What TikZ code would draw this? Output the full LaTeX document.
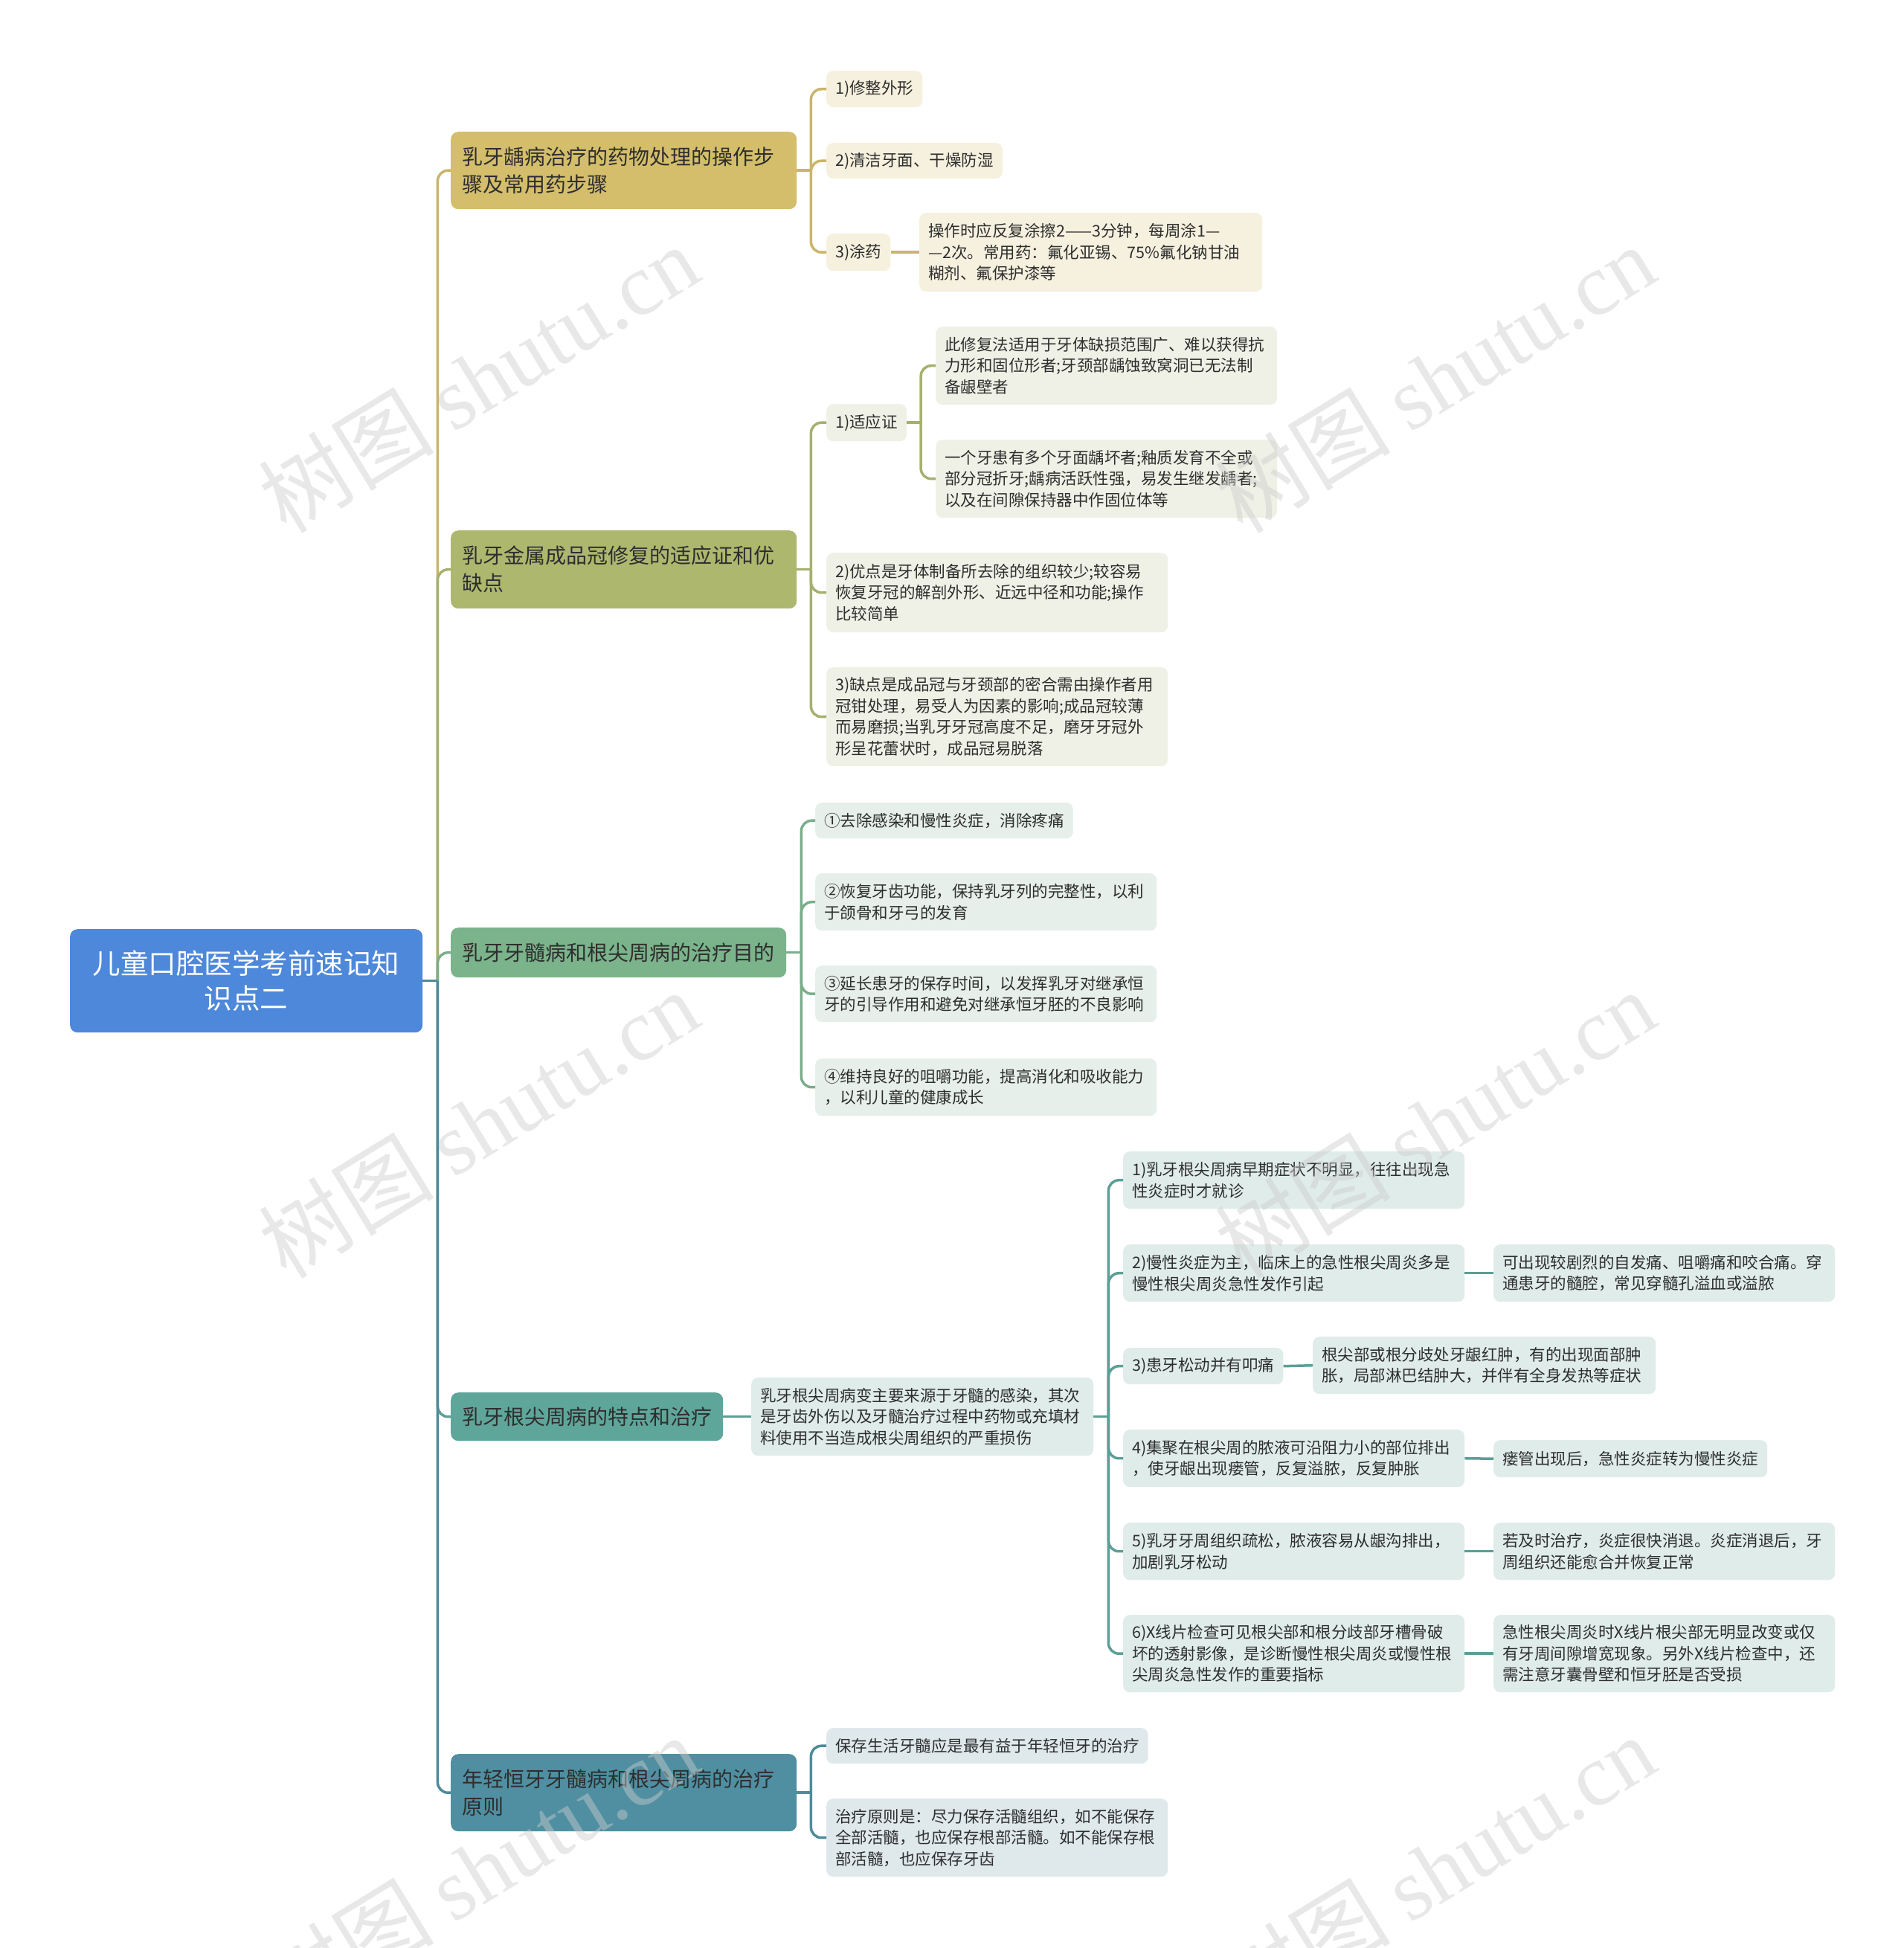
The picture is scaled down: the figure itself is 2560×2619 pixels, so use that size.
\documentclass[tikz,border=0pt]{standalone}
\usepackage{fontspec}
\setmainfont{Noto Sans CJK SC}
\newfontfamily\wmserif{Liberation Serif}
\definecolor{rootfill}{HTML}{4E88DA}
\definecolor{Afill}{HTML}{D4BE6C}
\definecolor{Aline}{HTML}{C9B56B}
\definecolor{Aleaf}{HTML}{F6F1DF}
\definecolor{Atext}{HTML}{5A4A14}
\definecolor{Bfill}{HTML}{ADB86E}
\definecolor{Bline}{HTML}{A5B06F}
\definecolor{Bleaf}{HTML}{F0F1E6}
\definecolor{Cfill}{HTML}{7BB38B}
\definecolor{Cline}{HTML}{7AAE8A}
\definecolor{Cleaf}{HTML}{E6EFE9}
\definecolor{Dfill}{HTML}{5FA69A}
\definecolor{Dline}{HTML}{5C9F96}
\definecolor{Dleaf}{HTML}{DFECEA}
\definecolor{Efill}{HTML}{4F8FA1}
\definecolor{Eline}{HTML}{4E8B9B}
\definecolor{Eleaf}{HTML}{DFE9EC}
\definecolor{ink}{HTML}{2E2E2E}
\tikzset{
  conn/.style={line width=3.5pt, rounded corners=14pt},
  leaf/.style={anchor=north west, rounded corners=9pt, align=left, inner xsep=12pt, inner ysep=0pt,
    font=\fontsize{21.5}{28.5}\selectfont, text=ink},
  lone/.style={anchor=north west, rounded corners=10pt, align=left, inner xsep=15pt, inner ysep=0pt,
    font=\fontsize{28}{37}\selectfont, text=ink},
  wm/.style={rotate=31.5, text=gray!40, text opacity=0.45, inner sep=0pt},
}
\begin{document}
\begin{tikzpicture}[x=1pt,y=-1pt]
\useasboundingbox[fill=white] (0,0) rectangle (2560,2619);

% root
\node[anchor=north west, rounded corners=10pt, fill=rootfill, text=white, align=center,
  text width=444pt, minimum height=139pt, inner xsep=15pt, inner ysep=0pt,
  font=\fontsize{37.5}{47}\selectfont] (R) at (94,1249) {儿童口腔医学考前速记知\\识点二};

% level 1
\node[lone, fill=Afill, text width=435pt, minimum height=104pt] (A) at (606,177) {乳牙龋病治疗的药物处理的操作步\\骤及常用药步骤};
\node[lone, fill=Bfill, text width=435pt, minimum height=105pt] (B) at (606,713) {乳牙金属成品冠修复的适应证和优\\缺点};
\node[lone, fill=Cfill, text width=421pt, minimum height=67pt] (C) at (606,1247) {乳牙牙髓病和根尖周病的治疗目的};
\node[lone, fill=Dfill, text width=336pt, minimum height=65pt] (D) at (606,1872) {乳牙根尖周病的特点和治疗};
\node[lone, fill=Efill, text width=435pt, minimum height=104pt] (E) at (606,2358) {年轻恒牙牙髓病和根尖周病的治疗\\原则};

% branch A
\begin{scope}[every node/.append style={fill=Aleaf, text=Atext}]
\node[leaf, minimum height=49pt] (a1) at (1111,95) {1)修整外形};
\node[leaf, minimum height=48pt] (a2) at (1111,192) {2)清洁牙面、干燥防湿};
\node[leaf, minimum height=50pt] (a3) at (1111,314) {3)涂药};
\node[leaf, text width=437pt, minimum height=106pt] (a3x) at (1236,286) {操作时应反复涂擦2——3分钟，每周涂1—\\—2次。常用药：氟化亚锡、75\%氟化钠甘油\\糊剂、氟保护漆等};
\end{scope}

% branch B
\begin{scope}[every node/.append style={fill=Bleaf}]
\node[leaf, minimum height=50pt] (b1) at (1111,543) {1)适应证};
\node[leaf, text width=435pt, minimum height=105pt] (b1a) at (1258,439) {此修复法适用于牙体缺损范围广、难以获得抗\\力形和固位形者;牙颈部龋蚀致窝洞已无法制\\备龈壁者};
\node[leaf, text width=435pt, minimum height=105pt] (b1b) at (1258,591) {一个牙患有多个牙面龋坏者;釉质发育不全或\\部分冠折牙;龋病活跃性强，易发生继发龋者;\\以及在间隙保持器中作固位体等};
\node[leaf, text width=435pt, minimum height=107pt] (b2) at (1111,743) {2)优点是牙体制备所去除的组织较少;较容易\\恢复牙冠的解剖外形、近远中径和功能;操作\\比较简单};
\node[leaf, text width=435pt, minimum height=133pt] (b3) at (1111,897) {3)缺点是成品冠与牙颈部的密合需由操作者用\\冠钳处理，易受人为因素的影响;成品冠较薄\\而易磨损;当乳牙牙冠高度不足，磨牙牙冠外\\形呈花蕾状时，成品冠易脱落};
\end{scope}

% branch C
\begin{scope}[every node/.append style={fill=Cleaf}]
\node[leaf, minimum height=48pt] (c1) at (1096,1079) {①去除感染和慢性炎症，消除疼痛};
\node[leaf, text width=435pt, minimum height=77pt] (c2) at (1096,1174) {②恢复牙齿功能，保持乳牙列的完整性，以利\\于颌骨和牙弓的发育};
\node[leaf, text width=435pt, minimum height=76pt] (c3) at (1096,1298) {③延长患牙的保存时间，以发挥乳牙对继承恒\\牙的引导作用和避免对继承恒牙胚的不良影响};
\node[leaf, text width=435pt, minimum height=77pt] (c4) at (1096,1423) {④维持良好的咀嚼功能，提高消化和吸收能力\\，以利儿童的健康成长};
\end{scope}

% branch D
\begin{scope}[every node/.append style={fill=Dleaf}]
\node[leaf, text width=436pt, minimum height=105pt] (d0) at (1010,1852) {乳牙根尖周病变主要来源于牙髓的感染，其次\\是牙齿外伤以及牙髓治疗过程中药物或充填材\\料使用不当造成根尖周组织的严重损伤};
\node[leaf, text width=435pt, minimum height=77pt] (d1) at (1510,1548) {1)乳牙根尖周病早期症状不明显，往往出现急\\性炎症时才就诊};
\node[leaf, text width=435pt, minimum height=77pt] (d2) at (1510,1673) {2)慢性炎症为主，临床上的急性根尖周炎多是\\慢性根尖周炎急性发作引起};
\node[leaf, text width=435pt, minimum height=77pt] (d2x) at (2008,1673) {可出现较剧烈的自发痛、咀嚼痛和咬合痛。穿\\通患牙的髓腔，常见穿髓孔溢血或溢脓};
\node[leaf, minimum height=49pt] (d3) at (1510,1812) {3)患牙松动并有叩痛};
\node[leaf, text width=437pt, minimum height=77pt] (d3x) at (1765,1797) {根尖部或根分歧处牙龈红肿，有的出现面部肿\\胀，局部淋巴结肿大，并伴有全身发热等症状};
\node[leaf, text width=435pt, minimum height=77pt] (d4) at (1510,1922) {4)集聚在根尖周的脓液可沿阻力小的部位排出\\，使牙龈出现瘘管，反复溢脓，反复肿胀};
\node[leaf, minimum height=50pt] (d4x) at (2008,1936) {瘘管出现后，急性炎症转为慢性炎症};
\node[leaf, text width=435pt, minimum height=77pt] (d5) at (1510,2047) {5)乳牙牙周组织疏松，脓液容易从龈沟排出，\\加剧乳牙松动};
\node[leaf, text width=435pt, minimum height=77pt] (d5x) at (2008,2047) {若及时治疗，炎症很快消退。炎症消退后，牙\\周组织还能愈合并恢复正常};
\node[leaf, text width=435pt, minimum height=104pt] (d6) at (1510,2171) {6)X线片检查可见根尖部和根分歧部牙槽骨破\\坏的透射影像，是诊断慢性根尖周炎或慢性根\\尖周炎急性发作的重要指标};
\node[leaf, text width=435pt, minimum height=104pt] (d6x) at (2008,2171) {急性根尖周炎时X线片根尖部无明显改变或仅\\有牙周间隙增宽现象。另外X线片检查中，还\\需注意牙囊骨壁和恒牙胚是否受损};
\end{scope}

% branch E
\begin{scope}[every node/.append style={fill=Eleaf}]
\node[leaf, minimum height=48pt] (e1) at (1111,2323) {保存生活牙髓应是最有益于年轻恒牙的治疗};
\node[leaf, text width=435pt, minimum height=105pt] (e2) at (1111,2418) {治疗原则是：尽力保存活髓组织，如不能保存\\全部活髓，也应保存根部活髓。如不能保存根\\部活髓，也应保存牙齿};
\end{scope}

% junctions
\path (R.east) ++(20,0) coordinate (rJ);
\path (A.east) ++(19,0) coordinate (aJ);
\path (B.east) ++(19,0) coordinate (bJ);
\path (C.east) ++(20,0) coordinate (cJ);
\path (D.east) ++(19,0) coordinate (dJ);
\path (E.east) ++(19,0) coordinate (eJ);
\path (b1.east) ++(19,0) coordinate (b1J);
\path (d0.east) ++(20,0) coordinate (d0J);

% root connectors
\draw[conn, Aline] (rJ) |- (A.west);
\draw[conn, Bline] (rJ) |- (B.west);
\draw[conn, Cline] (rJ) |- (C.west);
\draw[conn, Dline] (rJ) |- (D.west);
\draw[conn, Eline] (rJ) |- (E.west);
\draw[conn, Eline] (R.east) -- (rJ);

% A connectors
\draw[conn, Aline] (A.east) -- (aJ);
\foreach \c in {a1,a2,a3} \draw[conn, Aline] (aJ) |- (\c.west);
\draw[conn, Aline] (a3.east) -- (a3x.west);

% B connectors
\draw[conn, Bline] (B.east) -- (bJ);
\foreach \c in {b1,b2,b3} \draw[conn, Bline] (bJ) |- (\c.west);
\draw[conn, Bline] (b1.east) -- (b1J);
\foreach \c in {b1a,b1b} \draw[conn, Bline] (b1J) |- (\c.west);

% C connectors
\draw[conn, Cline] (C.east) -- (cJ);
\foreach \c in {c1,c2,c3,c4} \draw[conn, Cline] (cJ) |- (\c.west);

% D connectors
\draw[conn, Dline] (D.east) -- (d0.west);
\draw[conn, Dline] (d0.east) -- (d0J);
\foreach \c in {d1,d2,d3,d4,d5,d6} \draw[conn, Dline] (d0J) |- (\c.west);
\draw[conn, Dline] (d2.east) -- (d2x.west);
\draw[conn, Dline] (d3.east) -- (d3x.west);
\draw[conn, Dline] (d4.east) -- (d4x.west);
\draw[conn, Dline] (d5.east) -- (d5x.west);
\draw[conn, Dline] (d6.east) -- (d6x.west);

% E connectors
\draw[conn, Eline] (E.east) -- (eJ);
\foreach \c in {e1,e2} \draw[conn, Eline] (eJ) |- (\c.west);

% watermarks
\foreach \wx/\wy [count=\i] in {643/509, 1929/509, 643/1511, 1929/1511, 643/2513, 1929/2513}
  \node[wm] (wm\i) at (\wx,\wy) {\fontsize{118}{118}\selectfont 树图 {\wmserif shutu.cn}};
\end{tikzpicture}
\end{document}
